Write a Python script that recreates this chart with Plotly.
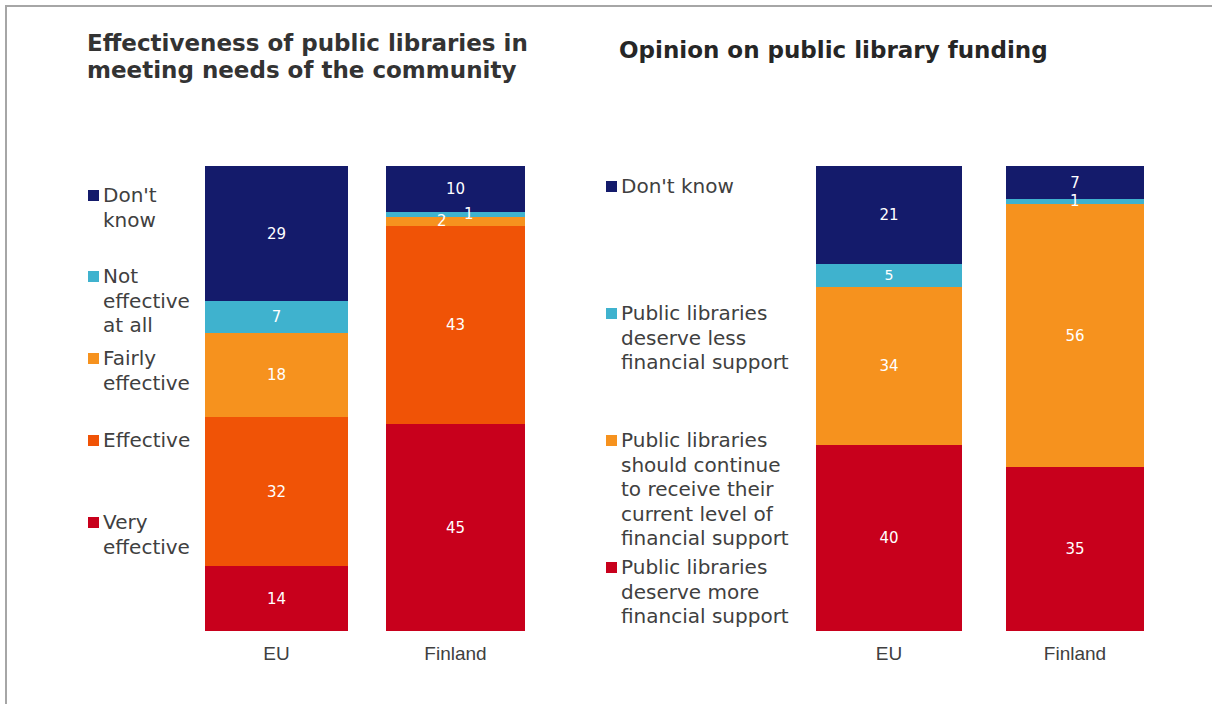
import plotly.graph_objects as go

W, H = 1212, 704

# ---------------- data ----------------
countries = ["EU", "Finland"]

eff_series = ["Very effective", "Effective", "Fairly effective", "Not effective at all", "Don't know"]
eff_legend = [["Very", "effective"], ["Effective"], ["Fairly", "effective"],
              ["Not", "effective", "at all"], ["Don't", "know"]]
eff_eu = [14, 32, 18, 7, 29]
eff_fi = [45, 43, 2, 1, 10]

fund_series = ["Public libraries deserve more financial support",
               "Public libraries should continue to receive their current level of financial support",
               "Public libraries deserve less financial support",
               "Don't know"]
fund_legend = [["Public libraries", "deserve more", "financial support"],
               ["Public libraries", "should continue", "to receive their", "current level of", "financial support"],
               ["Public libraries", "deserve less", "financial support"],
               ["Don't know"]]
fund_eu = [40, 34, 5, 21]
fund_fi = [35, 56, 1, 7]

title_left = ["Effectiveness of public libraries in", "meeting needs of the community"]
title_right = ["Opinion on public library funding"]

# ---------------- styles ----------------
RED, DKOR, ORANGE, CYAN, NAVY = "#c8001c", "#f05306", "#f6921e", "#3fb2ce", "#141b6b"
eff_colors = [RED, DKOR, ORANGE, CYAN, NAVY]
fund_colors = [RED, ORANGE, CYAN, NAVY]
TXT = "#404040"
FONT = "DejaVu Sans, Verdana, sans-serif"


def px(x):
    return x / W


def py(y):
    return 1 - y / H


fig = go.Figure()
annotations = []
shapes = []

# small-value labels are placed as annotations (with small horizontal offsets like the original)
small_shift = {("x", "Finland", 2): -14, ("x", "Finland", 3): 13, ("x2", "Finland", 2): 0}


def add_chart(series, colors, eu, fi, xa, ya, widths):
    vals = {"EU": eu, "Finland": fi}
    for i, name in enumerate(series):
        ys = [eu[i], fi[i]]
        texts = [str(v) if v >= 3 else "" for v in ys]
        fig.add_trace(go.Bar(
            x=countries, y=ys, name=name, marker=dict(color=colors[i], line=dict(width=0)),
            width=widths, text=texts, textposition="inside", insidetextanchor="middle",
            textangle=0, textfont=dict(color="white", size=15, family=FONT),
            xaxis=xa, yaxis=ya, showlegend=False,
        ))
        for c in countries:
            v = vals[c][i]
            if v < 3:
                tot = sum(vals[c])
                mid = (sum(vals[c][:i]) + v / 2) / tot * 100
                annotations.append(dict(
                    x=c, y=mid, xref=xa, yref=ya, text=str(v), showarrow=False,
                    xshift=small_shift.get((xa, c, i), 0),
                    font=dict(color="white", size=15, family=FONT)))


add_chart(eff_series, eff_colors, eff_eu, eff_fi, "x", "y", [0.80, 0.777])
add_chart(fund_series, fund_colors, fund_eu, fund_fi, "x2", "y2", [0.785, 0.742])


def add_lines(lines, x, cy0, step, size, color, bold=False):
    for k, ln in enumerate(lines):
        annotations.append(dict(x=px(x), y=py(cy0 + k * step), xref="paper", yref="paper",
                                xanchor="left", yanchor="middle", align="left", showarrow=False,
                                text=("<b>%s</b>" % ln) if bold else ln,
                                font=dict(size=size, color=color, family=FONT)))


# ---------------- legends (squares + text) ----------------
def add_legend(labels, colors, sq_x, txt_x, centers):
    for lab, col, cy in zip(labels, colors, centers):
        shapes.append(dict(type="rect", xref="paper", yref="paper",
                           x0=px(sq_x), x1=px(sq_x + 11), y0=py(cy - 5), y1=py(cy + 6),
                           fillcolor=col, line=dict(width=0)))
        add_lines(lab, txt_x, cy, 24.6, 20, TXT)


add_legend(eff_legend, eff_colors, 88, 101, [522, 440, 358, 276, 195])
add_legend(fund_legend, fund_colors, 606, 619, [567, 440, 313, 186])

# ---------------- titles ----------------
add_lines(title_left, 85, 43, 27, 23, "#333333", bold=True)
add_lines(title_right, 617, 50, 27, 23, "#262626", bold=True)

# ---------------- frame lines ----------------
shapes.append(dict(type="line", xref="paper", yref="paper", x0=px(6), x1=px(6), y0=0, y1=py(5),
                   line=dict(color="#a6a6a6", width=2)))
shapes.append(dict(type="line", xref="paper", yref="paper", x0=px(6), x1=1, y0=py(6), y1=py(6),
                   line=dict(color="#a6a6a6", width=2)))

tickfont = dict(size=19, color=TXT, family="Liberation Sans, Arial, sans-serif")
xcommon = dict(type="category", range=[-0.5, 1.5], showgrid=False, zeroline=False, showline=False,
               ticks="outside", ticklen=5, tickcolor="rgba(0,0,0,0)", tickfont=tickfont, fixedrange=True)
ycommon = dict(range=[0, 100], visible=False, showgrid=False, zeroline=False, fixedrange=True,
               domain=[73 / H, 538 / H])

fig.update_layout(
    width=W, height=H, margin=dict(l=0, r=0, t=0, b=0),
    paper_bgcolor="white", plot_bgcolor="white",
    barmode="stack", barnorm="percent", bargap=0,
    xaxis=dict(domain=[px(187), px(545)], anchor="y", **xcommon),
    yaxis=dict(anchor="x", **ycommon),
    xaxis2=dict(domain=[px(796), px(1168)], anchor="y2", **xcommon),
    yaxis2=dict(anchor="x2", **ycommon),
    annotations=annotations, shapes=shapes,
    showlegend=False,
)

fig.write_html("out.html", config={"displayModeBar": False},
               post_script="document.body.style.margin='0';document.body.style.overflow='hidden';")
